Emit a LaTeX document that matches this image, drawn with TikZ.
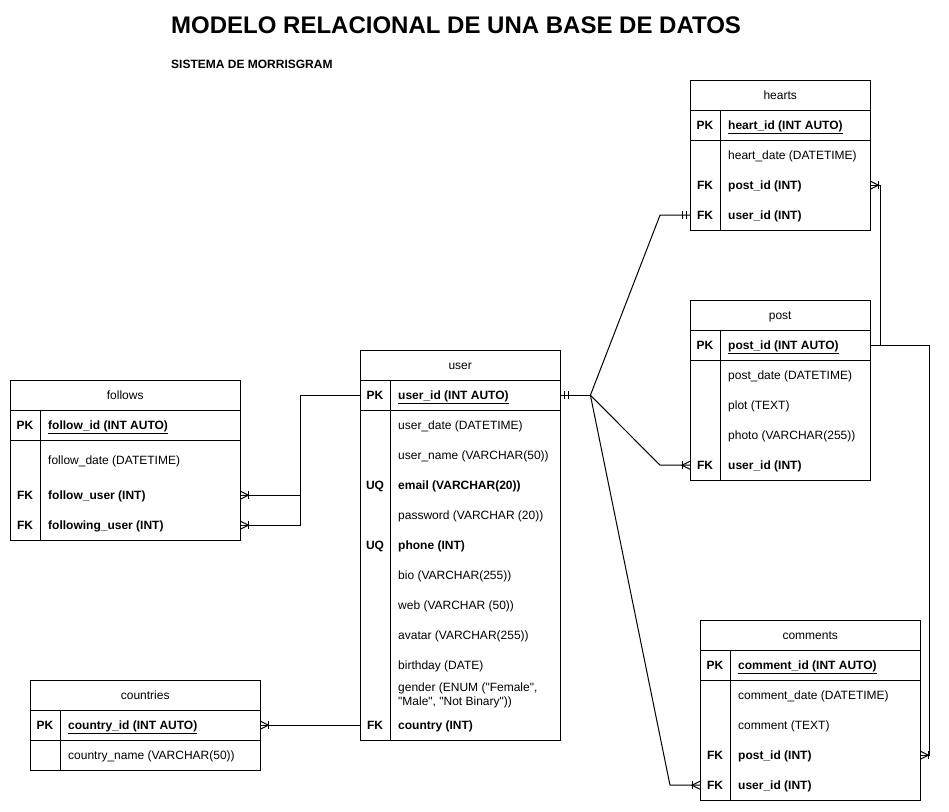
\documentclass[tikz,border=0pt]{standalone}
\usepackage{fontspec}
\setmainfont{Liberation Sans}[Ligatures=TeXOff]
\usetikzlibrary{calc}
\tikzset{
  tbl/.style={draw=black, line width=1pt, fill=white, inner sep=0pt},
  hdr/.style={inner sep=0pt, anchor=base, font=\fontsize{12}{14}\selectfont},
  rowbox/.style={inner sep=0pt},
  tline/.style={draw=black, line width=1pt},
  keytxt/.style={inner sep=0pt, anchor=base, font=\fontsize{12}{14}\selectfont\bfseries},
  fieldtxt/.style={inner sep=0pt, anchor=base west, font=\fontsize{12}{14}\selectfont},
  multitxt/.style={inner sep=0pt, anchor=west, align=left, font=\fontsize{12}{14}\selectfont},
  conn/.style={draw=black, line width=1pt},
  titletxt/.style={inner sep=0pt, anchor=base west, font=\fontsize{24}{28}\selectfont\bfseries},
  subtxt/.style={inner sep=0pt, anchor=base west, font=\fontsize{12}{14}\selectfont\bfseries},
}
% table frame: name, x, y, width, height, title
\newcommand\etable[6]{%
  \node[tbl, minimum width=#4pt, minimum height=#5pt, anchor=north west] (#1) at (#2,#3) {};
  \node[rowbox, minimum width=#4pt, minimum height=30pt, anchor=north west] (#1-hd) at (#2,#3) {};
  \node[hdr] (#1-ht) at ($(#1-hd.center)+(0,4.3)$) {#6};
  \draw[tline] (#1-hd.south west) -- (#1-hd.south east);
  \draw[tline] ($(#1-hd.south west)+(30,0)$) -- ($(#1.south west)+(30,0)$);
}
% row: [height] name, x, ytop, width, key, text
\newcommand\erow[7][30]{%
  \node[rowbox, minimum width=#5pt, minimum height=#1pt, anchor=north west] (#2) at (#3,#4) {};
  \node[keytxt] (#2-k) at ($(#2.west)+(15,4.3)$) {#6};
  \node[fieldtxt] (#2-t) at ($(#2.west)+(38,4.3)$) {#7};
}
% crow's foot with bar: point, direction away from table
\newcommand\crowfoot[2]{%
  \draw[conn] ($#1+({#2*8},-4)$) -- ($#1+({#2*8},4)$);
  \draw[conn] ($#1+(0,-4)$) -- ($#1+({#2*8},0)$) -- ($#1+(0,4)$);
}
% mandatory one: point, direction away from table
\newcommand\mandone[2]{%
  \draw[conn] ($#1+({#2*4},-4)$) -- ($#1+({#2*4},4)$);
  \draw[conn] ($#1+({#2*8},-4)$) -- ($#1+({#2*8},4)$);
}
\begin{document}
\begin{tikzpicture}[x=1pt, y=-1pt]
\fill[white] (0,0) rectangle (949,811);
\useasboundingbox (0,0) rectangle (949,811);

\node[titletxt] (title) at (171,33) {MODELO RELACIONAL DE UNA BASE DE DATOS};
\node[subtxt] (subtitle) at (171,68) {SISTEMA DE MORRISGRAM};

% hearts
\etable{hearts}{690}{80}{180}{150}{hearts}
\erow{hearts-pk}{690}{110}{180}{PK}{\underline{\textbf{heart\_id (INT AUTO)}}}
\draw[tline] (hearts-pk.south west) -- (hearts-pk.south east);
\erow{hearts-date}{690}{140}{180}{}{heart\_date (DATETIME)}
\erow{hearts-pid}{690}{170}{180}{FK}{\textbf{post\_id (INT)}}
\erow{hearts-uid}{690}{200}{180}{FK}{\textbf{user\_id (INT)}}

% post
\etable{post}{690}{300}{180}{180}{post}
\erow{post-pk}{690}{330}{180}{PK}{\underline{\textbf{post\_id (INT AUTO)}}}
\draw[tline] (post-pk.south west) -- (post-pk.south east);
\erow{post-date}{690}{360}{180}{}{post\_date (DATETIME)}
\erow{post-plot}{690}{390}{180}{}{plot (TEXT)}
\erow{post-photo}{690}{420}{180}{}{photo (VARCHAR(255))}
\erow{post-uid}{690}{450}{180}{FK}{\textbf{user\_id (INT)}}

% user
\etable{user}{360}{350}{200}{390}{user}
\erow{user-pk}{360}{380}{200}{PK}{\underline{\textbf{user\_id (INT AUTO)}}}
\draw[tline] (user-pk.south west) -- (user-pk.south east);
\erow{user-date}{360}{410}{200}{}{user\_date (DATETIME)}
\erow{user-name}{360}{440}{200}{}{user\_name (VARCHAR(50))}
\erow{user-email}{360}{470}{200}{UQ}{\textbf{email (VARCHAR(20))}}
\erow{user-pass}{360}{500}{200}{}{password (VARCHAR (20))}
\erow{user-phone}{360}{530}{200}{UQ}{\textbf{phone (INT)}}
\erow{user-bio}{360}{560}{200}{}{bio (VARCHAR(255))}
\erow{user-web}{360}{590}{200}{}{web (VARCHAR (50))}
\erow{user-avatar}{360}{620}{200}{}{avatar (VARCHAR(255))}
\erow{user-bday}{360}{650}{200}{}{birthday (DATE)}
\node[rowbox, minimum width=200pt, minimum height=30pt, anchor=north west] (user-gender) at (360,680) {};
\node[multitxt] (user-gender-t) at ($(user-gender.west)+(38,0)$) {gender (ENUM ("Female",\\"Male", "Not Binary"))};
\erow{user-country}{360}{710}{200}{FK}{\textbf{country (INT)}}

% follows
\etable{follows}{10}{380}{230}{160}{follows}
\erow{follows-pk}{10}{410}{230}{PK}{\underline{\textbf{follow\_id (INT AUTO)}}}
\draw[tline] (follows-pk.south west) -- (follows-pk.south east);
\erow[40]{follows-date}{10}{440}{230}{}{follow\_date (DATETIME)}
\erow{follows-fu}{10}{480}{230}{FK}{\textbf{follow\_user (INT)}}
\erow{follows-fgu}{10}{510}{230}{FK}{\textbf{following\_user (INT)}}

% countries
\etable{countries}{30}{680}{230}{90}{countries}
\erow{countries-pk}{30}{710}{230}{PK}{\underline{\textbf{country\_id (INT AUTO)}}}
\draw[tline] (countries-pk.south west) -- (countries-pk.south east);
\erow{countries-name}{30}{740}{230}{}{country\_name (VARCHAR(50))}

% comments
\etable{comments}{700}{620}{220}{180}{comments}
\erow{comments-pk}{700}{650}{220}{PK}{\underline{\textbf{comment\_id (INT AUTO)}}}
\draw[tline] (comments-pk.south west) -- (comments-pk.south east);
\erow{comments-date}{700}{680}{220}{}{comment\_date (DATETIME)}
\erow{comments-text}{700}{710}{220}{}{comment (TEXT)}
\erow{comments-pid}{700}{740}{220}{FK}{\textbf{post\_id (INT)}}
\erow{comments-uid}{700}{770}{220}{FK}{\textbf{user\_id (INT)}}

% connectors
\coordinate (fan) at ($(user-pk.east)+(30,0)$);
\draw[conn] (user-pk.east) -- (fan);
\draw[conn] (fan) -- ($(hearts-uid.west)+(-30,0)$) -- (hearts-uid.west);
\draw[conn] (fan) -- ($(post-uid.west)+(-30,0)$) -- (post-uid.west);
\draw[conn] (fan) -- ($(comments-uid.west)+(-30,0)$) -- (comments-uid.west);
\draw[conn] (user-pk.west) -- ++(-60,0) |- (follows-fu.east);
\draw[conn] (user-pk.west) -- ++(-60,0) |- (follows-fgu.east);
\draw[conn] (user-country.west) -- (countries-pk.east);
\draw[conn] (post-pk.east) -- ++(10,0) |- (hearts-pid.east);
\draw[conn] (post-pk.east) -- ++(59,0) |- (comments-pid.east);

\mandone{(user-pk.east)}{1}
\mandone{(hearts-uid.west)}{-1}
\crowfoot{(post-uid.west)}{-1}
\crowfoot{(comments-uid.west)}{-1}
\crowfoot{(follows-fu.east)}{1}
\crowfoot{(follows-fgu.east)}{1}
\crowfoot{(countries-pk.east)}{1}
\crowfoot{(hearts-pid.east)}{1}
\crowfoot{(comments-pid.east)}{1}
\end{tikzpicture}
\end{document}
